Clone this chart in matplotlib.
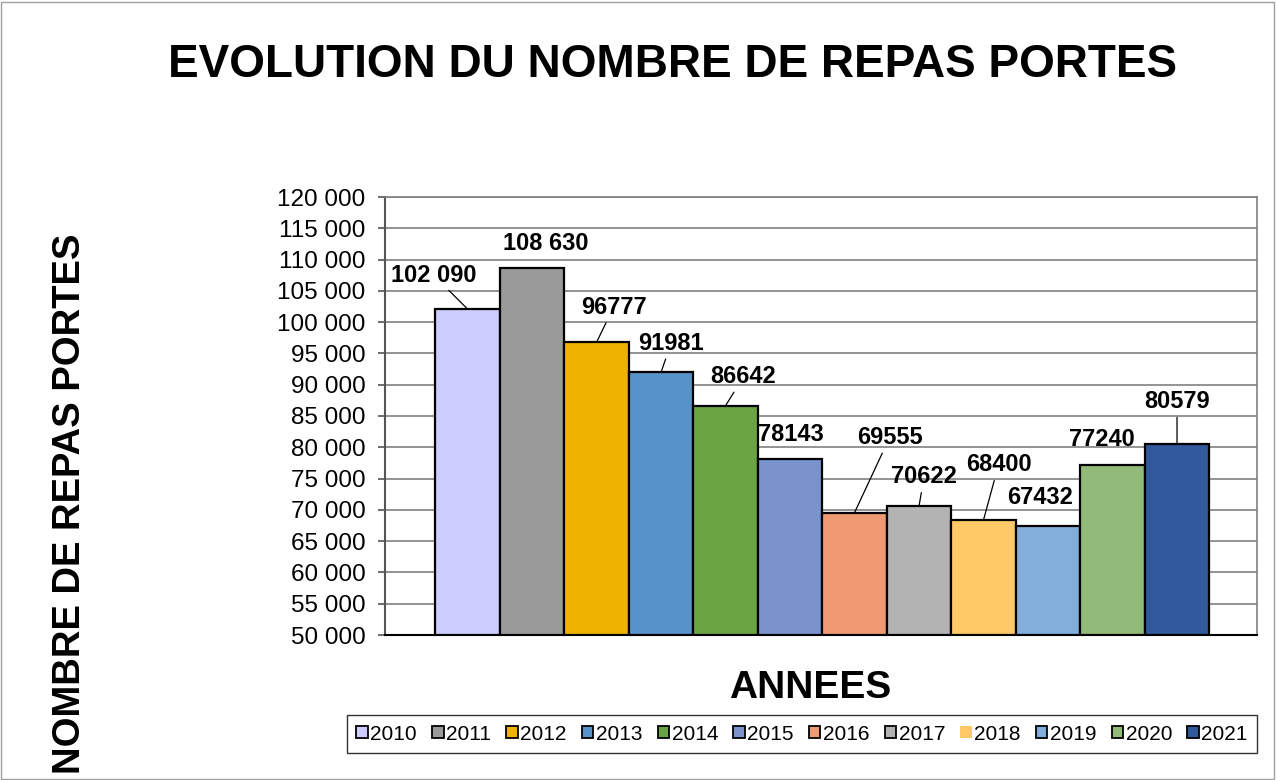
import matplotlib
matplotlib.use("Agg")
import matplotlib.pyplot as plt
from matplotlib.patches import Patch, Rectangle
from matplotlib.ticker import FuncFormatter

years = ["2010", "2011", "2012", "2013", "2014", "2015", "2016", "2017", "2018", "2019", "2020", "2021"]
values = [102090, 108630, 96777, 91981, 86642, 78143, 69555, 70622, 68400, 67432, 77240, 80579]
labels = ["102 090", "108 630", "96777", "91981", "86642", "78143", "69555", "70622", "68400", "67432", "77240", "80579"]

colors = ["#CCCCFF", "#9A9A9A", "#EFB200", "#5792C9", "#6AA443", "#7A93CD",
          "#EF9A73", "#B3B3B3", "#FFC968", "#83AEDB", "#92BB7A", "#32599B"]
# label offsets (pixels) relative to bar top center, and whether a leader line is drawn
label_offsets = [(-34, 34), (14, 25), (17, 35), (10, 29), (18, 29), (1, 24),
                 (35, 75), (5, 29), (15, 55), (-8, 28), (-11, 25), (0, 42)]
leader = [True, False, True, True, True, False, True, True, True, False, False, True]

plt.rcParams['font.family'] = ['Liberation Sans', 'DejaVu Sans']

fig = plt.figure(figsize=(12.77, 7.8), dpi=100)
W, H = 1277, 780
ax = fig.add_axes([385 / W, 1 - 635 / H, (1257 - 385) / W, (635 - 197) / H])

xs = list(range(len(years)))
ax.bar(xs, [v - 50000 for v in values], bottom=50000, width=1.0, color=colors,
       edgecolor="black", linewidth=1.6, zorder=3)

ax.set_ylim(50000, 120000)
ax.set_xlim(-0.5 - 0.78, len(years) - 0.5 + 0.74)
ax.set_yticks(range(50000, 120001, 5000))
ax.yaxis.set_major_formatter(FuncFormatter(lambda v, p: f"{int(v):,}".replace(",", " ")))
ax.set_xticks([])
ax.tick_params(axis='y', direction='out', length=5, width=1.2, color="#555555",
               labelsize=17.5, pad=9)
ax.grid(axis='y', color="#808080", linewidth=1.2, zorder=0)
ax.set_axisbelow(True)
for s in ["top", "right"]:
    ax.spines[s].set_color("#808080")
    ax.spines[s].set_linewidth(1.2)
ax.spines["left"].set_color("#555555")
ax.spines["left"].set_linewidth(1.5)
ax.spines["bottom"].set_color("black")
ax.spines["bottom"].set_linewidth(1.5)

for x, v, lab, (dx, dy), ld in zip(xs, values, labels, label_offsets, leader):
    kw = {}
    if ld:
        kw["arrowprops"] = dict(arrowstyle="-", color="black", lw=0.9, shrinkA=1, shrinkB=0)
    ax.annotate(lab, xy=(x, v), xytext=(dx, dy), textcoords="offset pixels",
                ha="center", va="center", fontsize=17, fontweight="bold", zorder=5, **kw)

fig.text(673 / W, 1 - 65 / H, "EVOLUTION DU NOMBRE DE REPAS PORTES", ha="center", va="center",
         fontsize=33, fontweight="bold")
fig.text(70 / W, 1 - 504 / H, "NOMBRE DE REPAS PORTES", ha="center", va="center",
         rotation=90, fontsize=27.5, fontweight="bold")
fig.text(810 / W, 1 - 688 / H, "ANNEES", ha="center", va="center",
         fontsize=28, fontweight="bold")

handles = []
for y, c in zip(years, colors):
    if y == "2018":
        handles.append(Patch(facecolor=c, edgecolor=c, linewidth=0))
    else:
        handles.append(Patch(facecolor=c, edgecolor="black", linewidth=1.3))
leg = fig.legend(handles, years, loc="center",
                 bbox_to_anchor=(347 / W, 1 - 755 / H, 910 / W, 42 / H), mode="expand",
                 ncol=12, fontsize=15, handlelength=0.55, handleheight=0.55, handletextpad=0.12,
                 columnspacing=0.3, frameon=True, fancybox=False, borderpad=0.45,
                 borderaxespad=0)
leg.get_frame().set_edgecolor("black")
leg.get_frame().set_linewidth(1.0)

fig.patches.append(Rectangle((0.001, 0.001), 0.997, 0.997, transform=fig.transFigure,
                             fill=False, edgecolor="#A0A0A0", linewidth=1.0))

fig.savefig("out.png", dpi=100)
